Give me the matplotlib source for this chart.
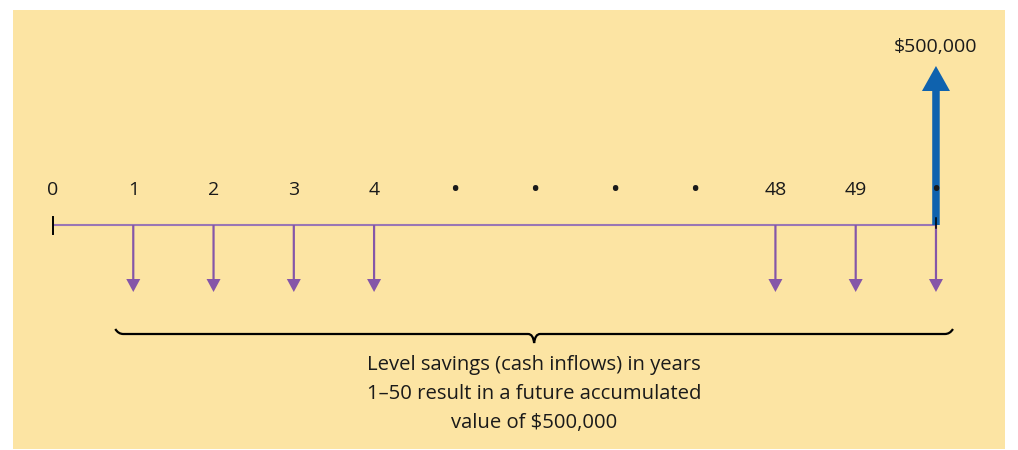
import matplotlib.pyplot as plt
from matplotlib.patches import Rectangle, PathPatch
from matplotlib.path import Path

# timeline slots (0 .. 11) and what is written above each one
slot_labels = ['0', '1', '2', '3', '4', '\u2022', '\u2022', '\u2022', '\u2022', '48', '49', '\u2022']
inflow_slots = [1, 2, 3, 4, 9, 10, 11]   # years 1-4, 48, 49, 50
future_slot = 11
future_value = 500000
caption = ("Level savings (cash inflows) in years\n"
           "1\u201350 result in a future accumulated\n"
           "value of $500,000")

plt.rcParams['font.family'] = ['Open Sans', 'DejaVu Sans']

W, H = 1018, 450
PX = 80.27          # pixels per slot
X0 = 53             # pixel of slot 0
AXIS_Y = 225        # pixel row of the time line
FS = 14

fig = plt.figure(figsize=(W / 100, H / 100), dpi=100)
fig.patch.set_facecolor('white')
fig.patches.append(Rectangle((13 / W, 1 / H), 992 / W, 439 / H, transform=fig.transFigure,
                             facecolor='#fce4a3', edgecolor='none', zorder=-1))

ax = fig.add_axes([0, 0, 1, 1])
ax.set_xlim(-X0 / PX, (W - X0) / PX)
ax.set_ylim(-(H - AXIS_Y), AXIS_Y)
ax.axis('off')
ax.patch.set_alpha(0)

purple = '#8556a8'
line_purple = '#9a76b4'
blue = '#0f62ae'
ink = '#1a1a1a'


def dx(px):
    return px / PX


n = len(slot_labels)
# main time line
ax.plot([0, n - 1], [0, 0], color=line_purple, lw=1.5, zorder=2, solid_capstyle='butt')
ax.plot([0, 0], [-9, 8], color='black', lw=1.4, zorder=3)

# labels above the line
for i, lab in enumerate(slot_labels):
    bold = 'bold' if lab == '\u2022' else 'normal'
    ax.text(i, 35, lab, ha='center', va='center', fontsize=FS, color=ink,
            fontweight=bold, zorder=6)

# savings arrows (downward)
for s in inflow_slots:
    ax.arrow(s, 0, 0, -67, width=dx(2.2), head_width=dx(14), head_length=13,
             length_includes_head=True, color=purple, lw=0, zorder=2)

# future value arrow (upward)
ax.arrow(future_slot, 0, 0, AXIS_Y - 66, width=dx(7.5), head_width=dx(28), head_length=25,
         length_includes_head=True, color=blue, lw=0, zorder=4)
ax.plot([future_slot, future_slot], [-3, 7], color='black', lw=1.1, zorder=5)
ax.text(future_slot, AXIS_Y - 47, '${:,}'.format(future_value), ha='center', va='center',
        fontsize=FS, color=ink, zorder=5)

# brace under the arrows
left = inflow_slots[0] - dx(18)
right = inflow_slots[-1] + dx(17)
mid = (left + right) / 2
yb = -109
verts = [(left, yb + 5), (left + dx(3), yb), (left + dx(8), yb),
         (mid - dx(6), yb),
         (mid - dx(1), yb), (mid, yb - 9),
         (mid + dx(1), yb), (mid + dx(6), yb),
         (right - dx(8), yb),
         (right - dx(3), yb), (right, yb + 5)]
codes = [Path.MOVETO, Path.CURVE3, Path.CURVE3,
         Path.LINETO,
         Path.CURVE3, Path.CURVE3,
         Path.CURVE3, Path.CURVE3,
         Path.LINETO,
         Path.CURVE3, Path.CURVE3]
ax.add_patch(PathPatch(Path(verts, codes), facecolor='none', edgecolor='black', lw=1.6, zorder=3))

ax.text(mid, -169, caption, ha='center', va='center', fontsize=14.6, color=ink,
        linespacing=1.6, zorder=3)

fig.savefig('out.png', dpi=100, facecolor=fig.get_facecolor())
